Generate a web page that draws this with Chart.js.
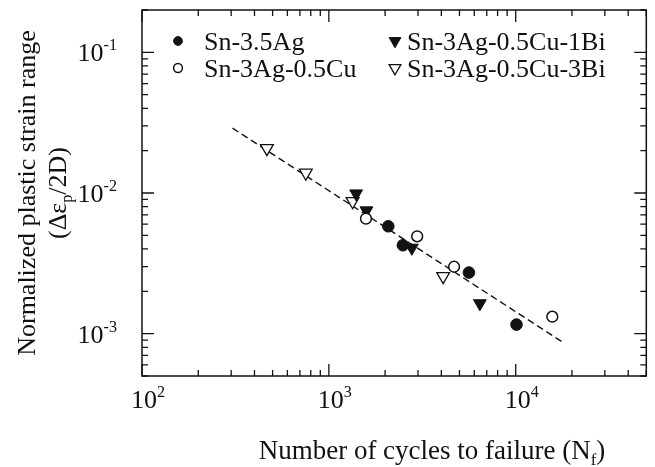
<!DOCTYPE html>
<html>
<head>
<meta charset="utf-8">
<script src="https://cdn.jsdelivr.net/npm/chart.js@4/dist/chart.umd.min.js"></script>
<style>
  html, body { margin: 0; padding: 0; background: #fff; }
  #wrap { width: 655px; height: 467px; }
</style>
</head>
<body>
<div id="wrap"><canvas id="fatigue" width="655" height="467"></canvas></div>
<script>
// cycles to failure (Nf) and normalized plastic strain range
const snAgX = [2080, 2490, 5620, 10100];
const snAgY = [5.8e-3, 4.25e-3, 2.72e-3, 1.16e-3];

const snAgCuX = [1580, 2970, 4680, 15700];
const snAgCuY = [6.57e-3, 4.92e-3, 2.99e-3, 1.32e-3];

const snAgCu1BiX = [1400, 1590, 2780, 6430];
const snAgCu1BiY = [9.9e-3, 7.5e-3, 4.07e-3, 1.64e-3];

const snAgCu3BiX = [466, 753, 1340, 4090];
const snAgCu3BiY = [2.08e-2, 1.39e-2, 8.72e-3, 2.56e-3];

// dashed fit line end points
const fitX = [305, 18000];
const fitY = [2.89e-2, 8.63e-4];

const xTickPowers = [2, 3, 4];
const yTickPowers = [-1, -2, -3];

const FONT = '"Liberation Serif", "Times New Roman", serif';
const INK = '#111';

function pts(xs, ys) {
    return xs.map((x, i) => ({ x: x, y: ys[i] }));
}

// draws text with sub/superscript pieces, returns total width
function richText(ctx, parts, x, y, size, align) {
    const pieces = parts.map(p => {
        const s = p.sub || p.sup ? size * 0.62 : size;
        ctx.font = s + 'px ' + FONT;
        return { t: p.t, s: s, w: ctx.measureText(p.t).width, dy: p.sub ? size * 0.22 : (p.sup ? -size * 0.42 : 0) };
    });
    const total = pieces.reduce((a, p) => a + p.w, 0);
    let cx = x;
    if (align === 'center') cx = x - total / 2;
    if (align === 'right') cx = x - total;
    ctx.textAlign = 'left';
    ctx.textBaseline = 'alphabetic';
    pieces.forEach(p => {
        ctx.font = p.s + 'px ' + FONT;
        ctx.fillText(p.t, cx, y + p.dy);
        cx += p.w;
    });
    return total;
}

const framePlugin = {
    id: 'frame',
    afterDraw(chart) {
        const ctx = chart.ctx;
        const a = chart.chartArea;
        const xs = chart.scales.x;
        const ys = chart.scales.y;
        ctx.save();
        ctx.strokeStyle = INK;
        ctx.fillStyle = INK;
        ctx.lineWidth = 1.5;
        ctx.strokeRect(a.left, a.top, a.right - a.left, a.bottom - a.top);

        // inward log ticks on all four sides
        ctx.lineWidth = 1.3;
        ctx.beginPath();
        for (let p = 2; p <= 4; p++) {
            for (let m = 1; m <= 9; m++) {
                const v = m * Math.pow(10, p);
                if (v < xs.min || v > xs.max) continue;
                const px = xs.getPixelForValue(v);
                const len = m === 1 ? 12 : 6;
                ctx.moveTo(px, a.bottom); ctx.lineTo(px, a.bottom - len);
                ctx.moveTo(px, a.top); ctx.lineTo(px, a.top + len);
            }
        }
        for (let p = -4; p <= -1; p++) {
            for (let m = 1; m <= 9; m++) {
                const v = m * Math.pow(10, p);
                if (v < ys.min || v > ys.max) continue;
                const py = ys.getPixelForValue(v);
                const len = m === 1 ? 12 : 6;
                ctx.moveTo(a.left, py); ctx.lineTo(a.left + len, py);
                ctx.moveTo(a.right, py); ctx.lineTo(a.right - len, py);
            }
        }
        ctx.stroke();

        // tick labels
        xTickPowers.forEach(p => {
            const px = xs.getPixelForValue(Math.pow(10, p));
            ctx.font = '26px ' + FONT;
            const w10 = ctx.measureText('10').width;
            richText(ctx, [{ t: '10' }, { t: String(p), sup: true }], px - w10 / 2 + 2, 408, 26, 'left');
        });
        yTickPowers.forEach(p => {
            const py = ys.getPixelForValue(Math.pow(10, p));
            richText(ctx, [{ t: '10' }, { t: '-' + Math.abs(p), sup: true }], 117, py + 9, 26, 'right');
        });

        // axis titles
        richText(ctx, [{ t: 'Number of cycles to failure (N' }, { t: 'f', sub: true }, { t: ')' }], 432, 459, 27, 'center');
        ctx.save();
        ctx.translate(35, 193);
        ctx.rotate(-Math.PI / 2);
        richText(ctx, [{ t: 'Normalized plastic strain range' }], 0, 0, 26, 'center');
        ctx.restore();
        ctx.save();
        ctx.translate(66, 193);
        ctx.rotate(-Math.PI / 2);
        richText(ctx, [{ t: '(\u0394\u03b5' }, { t: 'p', sub: true }, { t: '/2D)' }], 0, 0, 26, 'center');
        ctx.restore();

        // legend, two columns in the upper left of the plot
        const slots = [
            { mx: 178, tx: 204, y: 41 },
            { mx: 178, tx: 204, y: 68 },
            { mx: 395, tx: 407, y: 41 },
            { mx: 395, tx: 407, y: 68 }
        ];
        chart.data.datasets.forEach((ds, i) => {
            if (!ds.legend) return;
            const s = slots[i];
            ctx.fillStyle = ds.backgroundColor;
            ctx.strokeStyle = ds.borderColor;
            ctx.lineWidth = ds.borderWidth;
            Chart.helpers.drawPoint(ctx, {
                pointStyle: ds.pointStyle,
                rotation: ds.pointRotation || 0,
                radius: ds.pointStyle === 'circle' ? 4.4 : 6.8,
                borderWidth: ds.borderWidth
            }, s.mx, s.y);
            ctx.fillStyle = INK;
            richText(ctx, [{ t: ds.label }], s.tx, s.y + 9, 26, 'left');
        });
        ctx.restore();
    }
};

new Chart(document.getElementById('fatigue'), {
    type: 'scatter',
    data: {
        datasets: [
            {
                label: 'Sn-3.5Ag', legend: true,
                data: pts(snAgX, snAgY),
                pointStyle: 'circle', pointRadius: 5.8,
                backgroundColor: INK, borderColor: INK, borderWidth: 1
            },
            {
                label: 'Sn-3Ag-0.5Cu', legend: true,
                data: pts(snAgCuX, snAgCuY),
                pointStyle: 'circle', pointRadius: 5.4,
                backgroundColor: '#fff', borderColor: INK, borderWidth: 1.5
            },
            {
                label: 'Sn-3Ag-0.5Cu-1Bi', legend: true,
                data: pts(snAgCu1BiX, snAgCu1BiY),
                pointStyle: 'triangle', pointRotation: 180, pointRadius: 7.4,
                backgroundColor: INK, borderColor: INK, borderWidth: 1
            },
            {
                label: 'Sn-3Ag-0.5Cu-3Bi', legend: true,
                data: pts(snAgCu3BiX, snAgCu3BiY),
                pointStyle: 'triangle', pointRotation: 180, pointRadius: 7.4,
                backgroundColor: '#fff', borderColor: INK, borderWidth: 1.3
            },
            {
                type: 'line', label: 'fit',
                data: pts(fitX, fitY),
                borderColor: INK, borderWidth: 1.4, borderDash: [7, 4],
                pointRadius: 0, fill: false, showLine: true
            }
        ]
    },
    options: {
        responsive: false,
        animation: false,
        layout: { padding: { left: 142, top: 10, right: 6, bottom: 91 } },
        plugins: { legend: { display: false }, tooltip: { enabled: false } },
        scales: {
            x: { type: 'logarithmic', min: 100, max: 50000, display: false },
            y: { type: 'logarithmic', min: 5e-4, max: 0.2, display: false }
        }
    },
    plugins: [framePlugin]
});
</script>
</body>
</html>
